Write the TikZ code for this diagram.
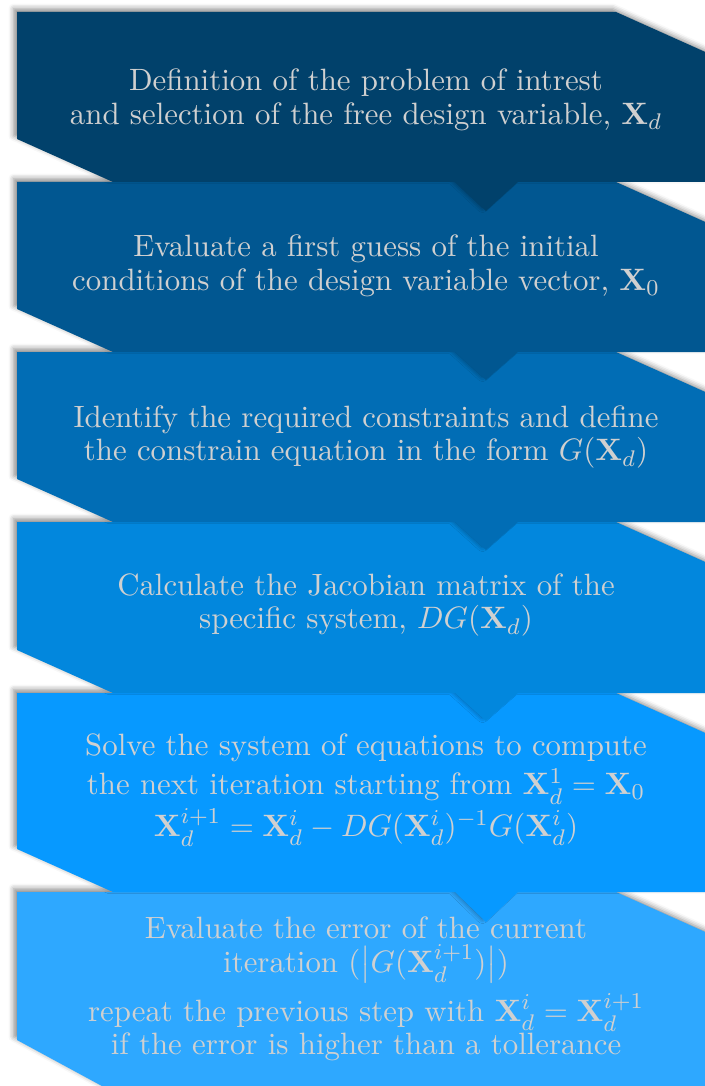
\documentclass[tikz,border=0pt]{standalone}
\usepackage{amsmath,amssymb}
\usepackage{tikz}
\usetikzlibrary{shadows.blur}

\definecolor{stepA}{RGB}{1,65,107}
\definecolor{stepB}{RGB}{1,87,145}
\definecolor{stepC}{RGB}{1,109,181}
\definecolor{stepD}{RGB}{2,135,221}
\definecolor{stepE}{RGB}{7,153,255}
\definecolor{stepF}{RGB}{46,168,255}
\definecolor{txtgray}{RGB}{208,208,208}

\begin{document}
\begin{tikzpicture}[x=0.3534pt, y=-0.3534pt,
    blk/.style={blur shadow={shadow xshift=-1.2pt, shadow yshift=1.2pt, shadow blur radius=1.8pt, shadow opacity=45}},
    txt/.style={align=center, text=txtgray, font=\fontsize{10.9}{12}\selectfont}
]
\useasboundingbox (0,0) rectangle (704,1086);

% boxes, drawn from the bottom up so each point lies on the next box
\fill[stepF, blk] (17,892) -- (616,892) -- (712,935) -- (712,1092) -- (113,1092) -- (17,1040) -- cycle;
\fill[stepE, blk] (17,693) -- (616,693) -- (712,736) -- (712,892) -- (518,892) -- (486,922) -- (455,892) -- (113,892) -- (17,849) -- cycle;
\fill[stepD, blk] (17,522) -- (616,522) -- (712,565) -- (712,693) -- (518,693) -- (486,721) -- (455,693) -- (113,693) -- (17,650) -- cycle;
\fill[stepC, blk] (17,352) -- (616,352) -- (712,395) -- (712,522) -- (518,522) -- (486,550) -- (455,522) -- (113,522) -- (17,479) -- cycle;
\fill[stepB, blk] (17,182) -- (616,182) -- (712,225) -- (712,352) -- (518,352) -- (486,380) -- (455,352) -- (113,352) -- (17,309) -- cycle;
\fill[stepA, blk] (17,12) -- (616,12) -- (712,55) -- (712,182) -- (518,182) -- (486,211) -- (455,182) -- (113,182) -- (17,139) -- cycle;

% texts
\node[txt] (def) at (366,100) {Definition of the problem of intrest\\and selection of the free design variable, $\mathbf{X}_d$};
\node[txt] (guess) at (366,266) {Evaluate a first guess of the initial\\conditions of the design variable vector, $\mathbf{X}_0$};
\node[txt] (cons) at (366,437) {Identify the required constraints and define\\the constrain equation in the form $G(\mathbf{X}_d)$};
\node[txt] (jac) at (366,605) {Calculate the Jacobian matrix of the\\specific system, $DG(\mathbf{X}_d)$};
\node[txt] (solve) at (366,790) {Solve the system of equations to compute\\[2pt]the next iteration starting from $\mathbf{X}_d^1 = \mathbf{X}_0$\\[0.5pt]$\mathbf{X}_d^{i+1} = \mathbf{X}_d^i - DG(\mathbf{X}_d^i)^{-1}G(\mathbf{X}_d^i)$};
\node[txt] (err) at (366,989) {Evaluate the error of the current\\iteration $(\left|G(\mathbf{X}_d^{i+1})\right|)$\\[2.5pt]repeat the previous step with $\mathbf{X}_d^i = \mathbf{X}_d^{i+1}$\\if the error is higher than a tollerance};
\end{tikzpicture}
\end{document}
